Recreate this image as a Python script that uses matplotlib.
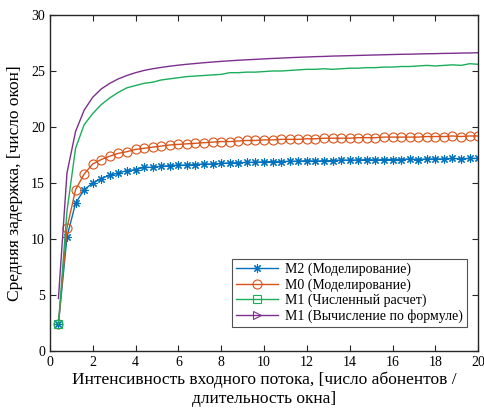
import matplotlib.pyplot as plt
import numpy as np

# Arrival intensity grid (0.4 .. 20, step 0.4)
x = np.linspace(0.4, 20, 50)

m2_sim = [2.4, 10.2, 13.2, 14.4, 15.0, 15.4, 15.7, 15.9, 16.1, 16.2,
          16.4, 16.4, 16.5, 16.55, 16.6, 16.6, 16.65, 16.7, 16.7, 16.75,
          16.8, 16.8, 16.85, 16.85, 16.9, 16.9, 16.9, 16.95, 16.95, 17.0,
          16.95, 17.0, 17.0, 17.05, 17.05, 17.05, 17.1, 17.05, 17.1, 17.1,
          17.1, 17.15, 17.1, 17.15, 17.15, 17.15, 17.2, 17.15, 17.2, 17.2]

m0_sim = [2.4, 11.0, 14.4, 15.8, 16.7, 17.1, 17.4, 17.65, 17.8, 18.0,
          18.1, 18.2, 18.3, 18.4, 18.45, 18.5, 18.55, 18.6, 18.65, 18.7,
          18.7, 18.75, 18.8, 18.8, 18.85, 18.85, 18.9, 18.9, 18.9, 18.95,
          18.95, 19.0, 19.0, 19.0, 19.0, 19.05, 19.05, 19.05, 19.1, 19.1,
          19.1, 19.1, 19.1, 19.15, 19.15, 19.15, 19.2, 19.15, 19.2, 19.2]

m1_num = [2.4, 12.5, 18.1, 20.2, 21.2, 22.0, 22.6, 23.1, 23.5, 23.7,
          23.9, 24.0, 24.2, 24.3, 24.4, 24.5, 24.55, 24.6, 24.65, 24.7,
          24.85, 24.85, 24.9, 24.9, 24.95, 25.0, 25.0, 25.05, 25.1, 25.15,
          25.15, 25.2, 25.15, 25.2, 25.25, 25.25, 25.3, 25.3, 25.35, 25.35,
          25.4, 25.4, 25.45, 25.5, 25.45, 25.5, 25.55, 25.5, 25.65, 25.6]

m1_formula = [4.7, 15.9, 19.6, 21.5, 22.65, 23.4, 23.9, 24.3, 24.6, 24.85,
              25.05, 25.2, 25.32, 25.43, 25.52, 25.6, 25.67, 25.74, 25.8, 25.86,
              25.91, 25.96, 26.0, 26.04, 26.08, 26.12, 26.15, 26.19, 26.22, 26.25,
              26.28, 26.3, 26.33, 26.35, 26.37, 26.39, 26.41, 26.43, 26.45, 26.47,
              26.49, 26.5, 26.52, 26.54, 26.55, 26.57, 26.58, 26.6, 26.61, 26.63]

labels = ["M2 (Моделирование)", "M0 (Моделирование)",
          "M1 (Численный расчет)", "M1 (Вычисление по формуле)"]

plt.rcParams.update({
    "font.family": "Liberation Serif",
    "font.size": 10,
    "xtick.direction": "in",
    "ytick.direction": "in",
    "xtick.top": True,
    "ytick.right": True,
})

fig = plt.figure(figsize=(4.84, 4.16), dpi=100)
ax = fig.add_axes([0.103, 0.156, 0.885, 0.808])

ax.plot(x, m2_sim, color="#0072BD", marker=(8, 2, 0), markersize=6,
        markeredgewidth=0.8, linewidth=1, label=labels[0])
ax.plot(x, m0_sim, color="#D95319", marker="o", markersize=6.5,
        markerfacecolor="none", markeredgewidth=0.8, linewidth=1, label=labels[1])
ax.plot(x, m1_num, color="#1AAE5A", marker="s", markersize=5.5, markevery=[0],
        markerfacecolor="none", markeredgewidth=0.8, linewidth=1, label=labels[2])
ax.plot(x, m1_formula, color="#7E2F8E", marker=">", markersize=6, markevery=[],
        markerfacecolor="none", markeredgewidth=0.8, linewidth=1, label=labels[3])

ax.set_xlim(0, 20)
ax.set_ylim(0, 30)
ax.set_xticks(np.arange(0, 21, 2))
ax.set_yticks(np.arange(0, 31, 5))
ax.tick_params(labelsize=10, length=4, color="#262626")
for s in ax.spines.values():
    s.set_color("#262626")
    s.set_linewidth(1.0)

ax.set_xlabel("Интенсивность входного потока, [число абонентов /\nдлительность окна]",
              fontsize=12.5, labelpad=2)
ax.set_ylabel("Средняя задержка, [число окон]", fontsize=12.5, labelpad=6)

leg = ax.legend(loc="lower right", bbox_to_anchor=(0.974, 0.071), borderaxespad=0,
                fontsize=10, frameon=True, fancybox=False, edgecolor="#262626",
                handlelength=3.0, borderpad=0.3, labelspacing=0.15,
                handletextpad=0.5)
leg.get_frame().set_linewidth(0.8)

fig.savefig("out.png", dpi=100)
